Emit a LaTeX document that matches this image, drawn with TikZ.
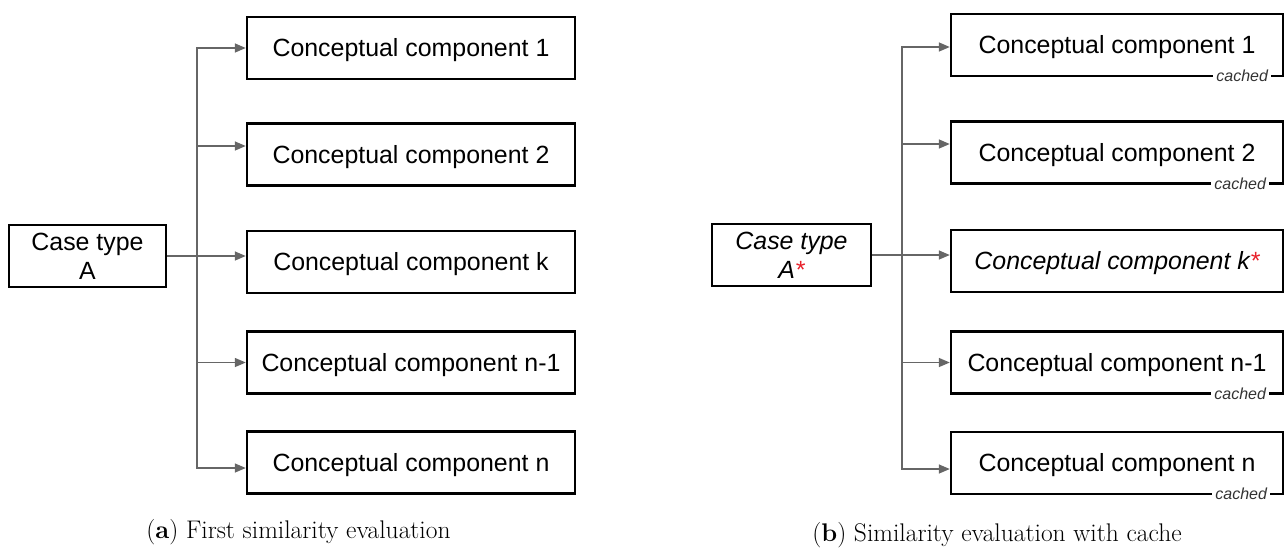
\documentclass[tikz,border=0pt]{standalone}
\usepackage{fontspec}
\usetikzlibrary{arrows.meta}
\newfontfamily\arialf{Liberation Sans}
\definecolor{conngray}{HTML}{666666}
\definecolor{tagtext}{HTML}{333333}
\definecolor{starred}{HTML}{E8202A}
\begin{document}
\begin{tikzpicture}[x=1pt,y=-1pt,
  basefont/.style={font=\arialf\fontsize{24.9}{30}\selectfont},
  comp/.style={basefont, draw=black, line width=2.4pt, minimum width=328pt,
    minimum height=62pt, inner sep=0pt, text height=17.8pt, text depth=0pt},
  compwide/.style={comp, minimum width=332pt},
  casebox/.style={basefont, draw=black, line width=2.4pt, minimum width=157pt,
    minimum height=62pt, inner sep=0pt, align=center},
  conn/.style={draw=conngray, line width=1.4pt,
    -{Triangle[length=11pt,width=9pt]}},
  tag/.style={font=\arialf\itshape\fontsize{16}{18}\selectfont, text=tagtext,
    fill=white, inner xsep=3pt, inner ysep=1pt},
  caption/.style={font=\fontsize{25.5}{30}\selectfont}
]
\useasboundingbox (0,0) rectangle (1287,549);

% ---- (a) first similarity evaluation ----
\node[casebox] (la) at (87.5,256) {Case type\\[-1pt]A};
\node[comp] (l1) at (411,48) {Conceptual component 1};
\node[comp] (l2) at (411,154.5) {Conceptual component 2};
\node[comp] (lk) at (411,262) {Conceptual component k};
\node[comp] (ln1) at (411,362.5) {Conceptual component n-1};
\node[comp] (ln) at (411,462.5) {Conceptual component n};

\coordinate (lt) at (197,256);
\draw[conn] (la.east) -- (lk.west |- la.east);
\draw[conn] (lt) |- (l1.west);
\draw[conn] (lt) |- ([yshift=8.5pt]l2.west);
\draw[conn] (lt) |- (ln1.west);
\draw[conn] (lt) |- ([yshift=-5.5pt]ln.west);

\node[caption] (capa) at (298.5,532) {(\textbf{a}) First similarity evaluation};

% ---- (b) similarity evaluation with cache ----
\node[casebox, minimum width=159pt, font=\arialf\itshape\fontsize{24.9}{30}\selectfont]
  (ra) at (791.5,255) {Case type\\[-1pt]A\textcolor{starred}{*}};
\node[compwide] (r1) at (1117,45) {Conceptual component 1};
\node[compwide] (r2) at (1117,152.5) {Conceptual component 2};
\node[compwide, font=\arialf\itshape\fontsize{24.9}{30}\selectfont]
  (rk) at (1117,261) {Conceptual component k\textcolor{starred}{*}};
\node[compwide] (rn1) at (1117,362.5) {Conceptual component n-1};
\node[compwide] (rn) at (1117,463) {Conceptual component n};

\coordinate (rt) at (902,255);
\draw[conn] (ra.east) -- (rk.west |- ra.east);
\draw[conn] (rt) |- ([yshift=-2pt]r1.west);
\draw[conn] (rt) |- ([yshift=8.5pt]r2.west);
\draw[conn] (rt) |- (rn1.west);
\draw[conn] (rt) |- ([yshift=-6pt]rn.west);

% cached markers sitting on the bottom edges
\node[tag] (t1) at ([xshift=-42pt,yshift=1pt]r1.south east) {cached};
\node[tag] (t2) at ([xshift=-44pt,yshift=1pt]r2.south east) {cached};
\node[tag] (t3) at ([xshift=-44pt,yshift=1pt]rn1.south east) {cached};
\node[tag] (t4) at ([xshift=-43pt,yshift=1pt]rn.south east) {cached};

\node[caption] (capb) at (997,535) {(\textbf{b}) Similarity evaluation with cache};
\end{tikzpicture}
\end{document}
